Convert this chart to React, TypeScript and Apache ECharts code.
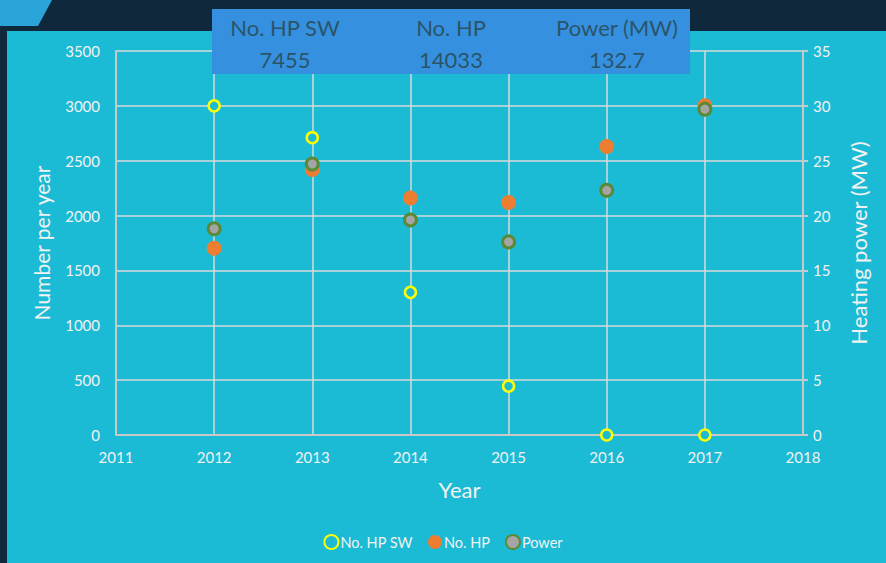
import React, { useEffect, useRef } from "react";
import * as echarts from "echarts";

const years = [2012, 2013, 2014, 2015, 2016, 2017];
const hpSW = [3000, 2710, 1300, 445, 0, 0];
const hp = [1703, 2420, 2160, 2120, 2630, 3000];
const power = [18.8, 24.7, 19.6, 17.6, 22.3, 29.7];
const tableHeaders = ["No. HP SW", "No. HP", "Power (MW)"];
const tableValues = ["7455", "14033", "132.7"];

const FONT = "Lato, 'Open Sans', sans-serif";
const TXT = "#f2f2f2";

export default function App() {
  const ref = useRef<HTMLDivElement>(null);
  useEffect(() => {
    if (!ref.current) return;
    const chart = echarts.init(ref.current, undefined, { renderer: "svg" });
    const colX = [285, 451, 617];
    chart.setOption({
      animation: false,
      backgroundColor: "#10283c",
      textStyle: { fontFamily: FONT },
      graphic: [
        { type: "rect", z: -10, shape: { x: 7, y: 31, width: 879, height: 532 }, style: { fill: "#1bbbd6" } },
        {
          type: "polygon",
          z: -10,
          shape: { points: [[0, 0], [52, 0], [38, 26], [0, 26]] },
          style: { fill: "#2ba4d9" },
        },
        { type: "rect", z: 100, shape: { x: 212, y: 9, width: 478, height: 65 }, style: { fill: "#3591e0" } },
        ...tableHeaders.map((t, i) => ({
          type: "text",
          z: 101,
          x: colX[i],
          y: 27,
          style: { text: t, fill: "#2b5468", font: `22px ${FONT}`, align: "center", verticalAlign: "middle" },
        })),
        ...tableValues.map((t, i) => ({
          type: "text",
          z: 101,
          x: colX[i],
          y: 59,
          style: { text: t, fill: "#2b5468", font: `22px ${FONT}`, align: "center", verticalAlign: "middle" },
        })),
      ],
      grid: { left: 116, right: 83, top: 51, bottom: 128, containLabel: false },
      legend: {
        bottom: 8,
        left: "center",
        itemGap: 15,
        itemWidth: 14,
        itemHeight: 14,
        icon: "circle",
        textStyle: { color: TXT, fontSize: 14.5, fontFamily: FONT, padding: [0, 0, 0, -3] },
        data: ["No. HP SW", "No. HP", "Power"],
      },
      xAxis: {
        type: "value",
        min: 2011,
        max: 2018,
        interval: 1,
        name: "Year",
        nameLocation: "middle",
        nameGap: 43,
        nameTextStyle: { color: TXT, fontSize: 22, fontFamily: FONT },
        axisLine: { show: true, lineStyle: { color: "#c8c8c8", width: 2 } },
        axisTick: { show: false },
        axisLabel: { color: TXT, fontSize: 15, margin: 14, formatter: (v: number) => String(v) },
        splitLine: { show: true, lineStyle: { color: "#d9d9d9", width: 1.5 } },
      },
      yAxis: [
        {
          type: "value",
          min: 0,
          max: 3500,
          interval: 500,
          name: "Number per year",
          nameLocation: "middle",
          nameGap: 64,
          nameTextStyle: { color: TXT, fontSize: 21, fontFamily: FONT },
          axisLine: { show: true, lineStyle: { color: "#c8c8c8", width: 2 } },
          axisTick: { show: false },
          axisLabel: { color: TXT, fontSize: 15, margin: 16, formatter: (v: number) => String(v) },
          splitLine: { show: true, lineStyle: { color: "#d9d9d9", width: 1.5 } },
        },
        {
          type: "value",
          min: 0,
          max: 35,
          interval: 5,
          position: "right",
          name: "Heating power (MW)",
          nameLocation: "middle",
          nameGap: 44,
          nameTextStyle: { color: TXT, fontSize: 22, fontFamily: FONT },
          axisLine: { show: true, lineStyle: { color: "#c8c8c8", width: 2 } },
          axisTick: { show: true, length: 5, lineStyle: { color: "#c8c8c8", width: 2 } },
          axisLabel: { color: TXT, fontSize: 15, margin: 10 },
          splitLine: { show: false },
        },
      ],
      series: [
        {
          name: "No. HP SW",
          type: "scatter",
          yAxisIndex: 0,
          symbol: "circle",
          symbolSize: 11,
          z: 3,
          itemStyle: { color: "#1bbbd6", borderColor: "#ffff00", borderWidth: 2.5, opacity: 1 },
          data: years.map((y, i) => [y, hpSW[i]]),
        },
        {
          name: "No. HP",
          type: "scatter",
          yAxisIndex: 0,
          symbol: "circle",
          symbolSize: 15,
          z: 2,
          itemStyle: { color: "#ed7d31", opacity: 1 },
          data: years.map((y, i) => [y, hp[i]]),
        },
        {
          name: "Power",
          type: "scatter",
          yAxisIndex: 1,
          symbol: "circle",
          symbolSize: 12,
          z: 4,
          itemStyle: { color: "#a5a5a5", borderColor: "#5b8a37", borderWidth: 3, opacity: 1 },
          data: years.map((y, i) => [y, power[i]]),
        },
      ],
    });
    return () => chart.dispose();
  }, []);
  return (
    <div
      ref={ref}
      style={{ position: "fixed", left: 0, top: 0, width: 886, height: 563 }}
    />
  );
}
